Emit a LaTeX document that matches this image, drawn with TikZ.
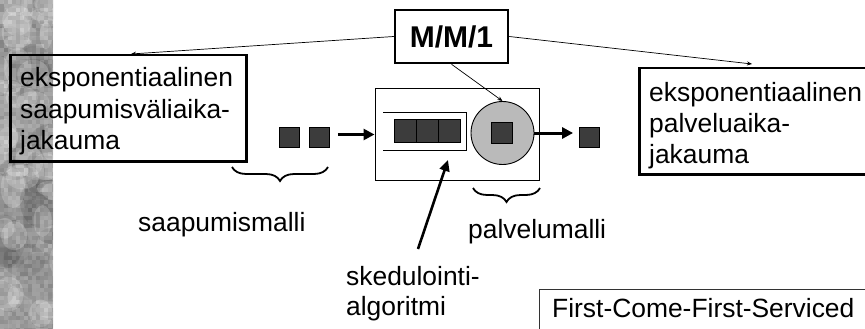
\documentclass[tikz,border=0pt]{standalone}
\usepackage{fontspec}
\setmainfont{Liberation Sans}
\usetikzlibrary{arrows.meta,decorations.pathreplacing,calc}
\definecolor{jobgray}{HTML}{3C3C3C}
\definecolor{srvgray}{HTML}{BABABA}
\definecolor{stripgray}{HTML}{A4A4A4}
\tikzset{
  txt/.style={font=\fontsize{26.4}{31}\selectfont, inner sep=0pt, anchor=base west},
  bigbox/.style={draw, line width=2.5pt, inner sep=0pt, anchor=north west},
  jobsq/.style={draw, fill=jobgray, line width=0.8pt, inner sep=0pt, minimum size=21pt},
  thinarrow/.style={line width=0.7pt, -{Stealth[length=5pt,width=4pt]}},
  fatarrow/.style={line width=3pt, -{Triangle[length=11pt,width=11pt]}},
  bracestyle/.style={line width=1.8pt, decorate, decoration={brace, mirror, amplitude=14pt}}
}
\begin{document}
\begin{tikzpicture}[x=1pt,y=-1pt]
\useasboundingbox (0,0) rectangle (865,329);
% textured strip on the left
\begin{scope}
  \clip (0,0) rectangle (53,329);
  \fill[stripgray] (0,0) rectangle (53,329);
  \pgfmathsetseed{11}
  \foreach \i in {1,...,45}{
    \pgfmathsetmacro\xx{rnd*60}
    \pgfmathsetmacro\yy{rnd*335}
    \pgfmathsetmacro\rx{8+rnd*18}
    \pgfmathsetmacro\ry{8+rnd*22}
    \pgfmathsetmacro\sh{30+rnd*50}
    \fill[black!\sh, opacity=0.22] (\xx,\yy) ellipse [x radius=\rx, y radius=\ry];
  }
  \foreach \i in {1,...,35}{
    \pgfmathsetmacro\xx{rnd*60}
    \pgfmathsetmacro\yy{rnd*335}
    \pgfmathsetmacro\rx{6+rnd*14}
    \pgfmathsetmacro\ry{6+rnd*14}
    \fill[white, opacity=0.22] (\xx,\yy) ellipse [x radius=\rx, y radius=\ry];
  }
  \foreach \cx in {0,4,...,52}{
    \foreach \cy in {0,4,...,328}{
      \pgfmathsetmacro\sh{rnd*100}
      \fill[black!\sh, opacity=0.12] (\cx,\cy) rectangle ++(4,4);
    }
  }
\end{scope}

% M/M/1 box
\node[draw, line width=2.5pt, inner sep=0pt, minimum width=113pt, minimum height=53pt,
      font=\bfseries\fontsize{30}{36}\selectfont] (mm) at (451.5,36.5) {M/M/1};

% left description box
\node[bigbox, minimum width=236pt, minimum height=106pt] (lbox) at (9,54) {};
\node[txt] (l1) at (20,87) {eksponentiaalinen};
\node[txt] (l2) at (20,118) {saapumisväliaika-};
\node[txt] (l3) at (20,149) {jakauma};

% right description box
\node[bigbox, minimum width=260pt, minimum height=106pt] (rbox) at (638,67) {};
\node[txt] (r1) at (649,101) {eksponentiaalinen};
\node[txt] (r2) at (649,132) {palveluaika-};
\node[txt] (r3) at (649,163) {jakauma};

% system box
\node[draw, line width=1pt, inner sep=0pt, minimum width=164pt, minimum height=91pt] (sys) at (457,134.5) {};
\draw[line width=1pt] (383,112) -| (466,150) -- (383,150);
\node[jobsq, minimum width=22pt, minimum height=23pt] (q1) at (405,130.5) {};
\node[jobsq, minimum width=22pt, minimum height=23pt] (q2) at (427,130.5) {};
\node[jobsq, minimum width=22pt, minimum height=23pt] (q3) at (449,130.5) {};
\node[circle, draw, fill=srvgray, line width=0.9pt, minimum size=63pt, inner sep=0pt] (srv) at (502.5,133) {};
\node[jobsq] (s0) at (501.5,132.5) {};

% arriving and leaving customers
\node[jobsq, minimum size=20pt] (a1) at (289.5,137) {};
\node[jobsq, minimum size=20pt] (a2) at (319.5,137) {};
\node[jobsq, minimum size=20pt] (o1) at (589.5,137) {};
\draw[fatarrow] ($(a2.east |- sys.west)+(8,0)$) -- (sys.west);
\draw[fatarrow] (srv.east) -- ($(o1.west |- srv.east)+(-6,0)$);

% connectors from M/M/1
\coordinate (lt) at (131,54);
\coordinate (rt) at (752,64);
\draw[thinarrow] (mm.west) -- (lt);
\draw[thinarrow] (mm.east) -- (rt);
\draw[thinarrow] (mm.south) -- (srv.north);

% braces
\coordinate (b1s) at (232,167);
\coordinate (b1e) at (328,167);
\coordinate (b2s) at (473,188);
\coordinate (b2e) at (540,188);
\draw[bracestyle] (b1s) -- (b1e);
\draw[bracestyle] (b2s) -- (b2e);

% labels
\node[txt] (sm) at (138,231) {saapumismalli};
\node[txt] (pm) at (468,238) {palvelumalli};
\node[txt] (sk1) at (346,285) {skedulointi-};
\node[txt] (sk2) at (346,315) {algoritmi};

% scheduling arrow
\coordinate (sa) at (418,249);
\coordinate (sb) at (448,160);
\draw[line width=2.6pt, -{Triangle[length=11pt,width=10pt]}] (sa) -- (sb);

% FCFS box
\node[draw, draw=black!80, line width=1pt, inner sep=0pt, anchor=north west, minimum width=360pt, minimum height=60pt] (fcfs) at (539,289) {};
\node[txt] (ft) at (552,317) {First-Come-First-Serviced};
\end{tikzpicture}
\end{document}
